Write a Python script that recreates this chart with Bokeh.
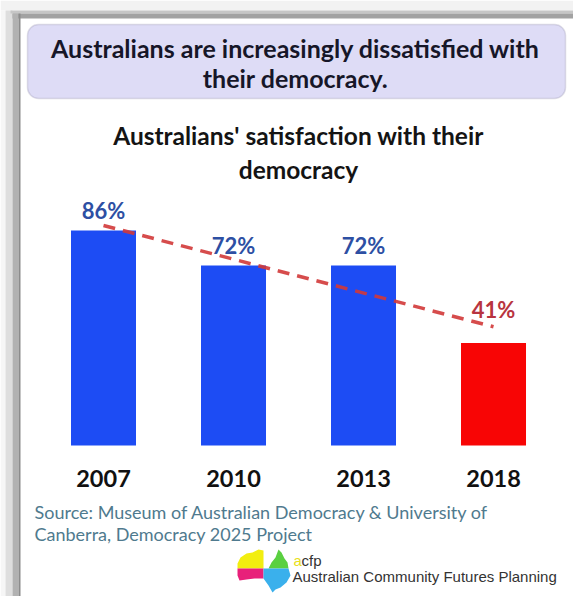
import numpy as np
from bokeh.plotting import figure
from bokeh.models import (FactorRange, Range1d, Label, BoxAnnotation,
                          PolyAnnotation, ColumnDataSource)
from bokeh.transform import dodge
from bokeh.core.properties import value
from bokeh.embed import file_html
from bokeh.resources import INLINE

# ---- data ----
years = ["2007", "2010", "2013", "2018"]
satisfaction = [86, 72, 72, 41]
pct_labels = ["86%", "72%", "72%", "41%"]
bar_colors = ["#1d4cf4", "#1d4cf4", "#1d4cf4", "#f80505"]
title_lines = ["Australians are increasingly dissatisfied with", "their democracy."]
chart_title_lines = ["Australians' satisfaction with their", "democracy"]
source_lines = ["Source: Museum of Australian Democracy & University of",
                "Canberra, Democracy 2025 Project"]

# ---- geometry ----
W, H = 573, 596
SHIFT = 0.0885   # horizontal shift of the category centres (in category widths)


def sx(x):
    return x


def sy(y):
    return H - y


src = ColumnDataSource(dict(year=years, sat=satisfaction, lab=pct_labels, color=bar_colors))
blue = ColumnDataSource(dict(year=years[:3], sat=satisfaction[:3], lab=pct_labels[:3]))
red = ColumnDataSource(dict(year=years[3:], sat=satisfaction[3:], lab=pct_labels[3:]))

xr = FactorRange(*years, range_padding=0.2038, range_padding_units="absolute")
p = figure(width=W, height=H, x_range=xr, y_range=Range1d(-60.4, 178),
           x_axis_location=None, y_axis_location=None,
           output_backend="svg", toolbar_location=None,
           min_border_left=0, min_border_right=0, min_border_top=0, min_border_bottom=0)
p.grid.visible = False
p.outline_line_color = None
p.background_fill_color = "white"
p.border_fill_color = "white"

xpos = dodge("year", SHIFT, range=xr)


def sbox(left, right, top, bottom, **kw):
    return BoxAnnotation(left=sx(left), right=sx(right), top=sy(top), bottom=sy(bottom),
                         left_units="screen", right_units="screen",
                         top_units="screen", bottom_units="screen", **kw)


# window frame decoration
p.add_layout(sbox(0, W, 0, 10, fill_color="#f2f2f2", fill_alpha=1, line_alpha=0))
p.add_layout(sbox(0, 5, 10, H, fill_color="#f6f6f6", fill_alpha=1, line_alpha=0))
p.add_layout(sbox(5, 12, 10, H, fill_color="#dedede", fill_alpha=1, line_alpha=0))
p.add_layout(sbox(10, W, 10, 13, fill_color="#c6c6c6", fill_alpha=1, line_alpha=0))
p.add_layout(sbox(12, W, 13, 18, fill_color="#a2a2a2", fill_alpha=1, line_alpha=0))
p.add_layout(sbox(12, 18, 13, H, fill_color="#b2b2b2", fill_alpha=1, line_alpha=0))
p.add_layout(sbox(18, 20, 13, H, fill_color="#8c8c8c", fill_alpha=1, line_alpha=0))

# title box
p.add_layout(sbox(27, 565, 24, 98, fill_color="#dedcf6", fill_alpha=1, line_color="#9a98b0",
                  line_width=1.5, border_radius=11))
for i, t in enumerate(title_lines):
    p.add_layout(Label(x=sx(295), y=sy(47 + 30 * i), x_units="screen", y_units="screen", text=t,
                       text_align="center", text_baseline="middle", text_font="Lato",
                       text_font_style="bold", text_font_size="25px", text_color="#161628"))

# chart title
for i, t in enumerate(chart_title_lines):
    p.add_layout(Label(x=sx(298), y=sy(135 + 34 * i), x_units="screen", y_units="screen", text=t,
                       text_align="center", text_baseline="middle", text_font="Lato",
                       text_font_style="bold", text_font_size="24.5px", text_color="#141414"))

# bars
p.vbar(x=xpos, top="sat", width=0.5, source=src, fill_color="color", line_color=None)

# trendline (least squares over category index)
idx = np.arange(len(satisfaction))
slope, intercept = np.polyfit(idx, satisfaction, 1)
trend = ColumnDataSource(dict(year=[years[0], years[-1]],
                              val=[intercept, intercept + slope * idx[-1]]))
p.line(x=xpos, y="val", source=trend,
       line_color="#d23838", line_width=3.5, line_dash="12 8", line_alpha=0.9)

# value labels
p.text(x=xpos, y="sat", text="lab", source=blue, y_offset=-20,
       text_align="center", text_baseline="middle", text_font=value("Lato"),
       text_font_style="bold", text_font_size="22px", text_color="#2d4fa3")
p.text(x=xpos, y="sat", text="lab", source=red, y_offset=-34,
       text_align="center", text_baseline="middle", text_font=value("Lato"),
       text_font_style="bold", text_font_size="22px", text_color="#b83440")

# category labels
p.text(x=xpos, y=0, text="year", source=src, y_offset=33,
       text_align="center", text_baseline="middle", text_font=value("Lato"),
       text_font_style="bold", text_font_size="23.5px", text_color="#111111")

# source
for i, t in enumerate(source_lines):
    p.add_layout(Label(x=sx(34), y=sy(511 + 22 * i), x_units="screen", y_units="screen", text=t,
                       text_align="left", text_baseline="middle", text_font="Lato",
                       text_font_size="18px", text_color="#4f7a8e"))

# logo
logo_parts = [
    ([237, 240, 246, 252, 258, 263, 263, 237], [563, 557, 553, 552, 549, 550, 568, 568], "#f2ee10"),
    ([263, 263, 268, 271, 275, 278, 281, 284, 287, 288, 263],
     [550, 568, 568, 562, 557, 549, 552, 558, 562, 568, 568], "#5ad040"),
    ([237, 263, 263, 254, 246, 239, 237], [568, 568, 578, 578, 579, 580, 575], "#e8207a"),
    ([263, 288, 290, 286, 280, 275, 272, 268, 263], [568, 568, 575, 582, 587, 589, 592, 585, 578], "#3ab0ec"),
]
for xs, ys, c in logo_parts:
    p.add_layout(PolyAnnotation(xs=[sx(v) for v in xs], ys=[sy(v) for v in ys],
                                xs_units="screen", ys_units="screen",
                                fill_color=c, fill_alpha=1, line_alpha=0))
p.add_layout(Label(x=sx(293), y=sy(560), x_units="screen", y_units="screen", text="a",
                   text_align="left", text_baseline="middle", text_font="Liberation Sans",
                   text_font_size="15px", text_color="#e8e020"))
p.add_layout(Label(x=sx(301), y=sy(560), x_units="screen", y_units="screen", text="cfp",
                   text_align="left", text_baseline="middle", text_font="Liberation Sans",
                   text_font_size="15px", text_color="#333333"))
p.add_layout(Label(x=sx(292), y=sy(576), x_units="screen", y_units="screen",
                   text="Australian Community Futures Planning",
                   text_align="left", text_baseline="middle", text_font="Liberation Sans",
                   text_font_size="15px", text_color="#333333"))

open("out.html", "w").write(file_html(p, INLINE))
